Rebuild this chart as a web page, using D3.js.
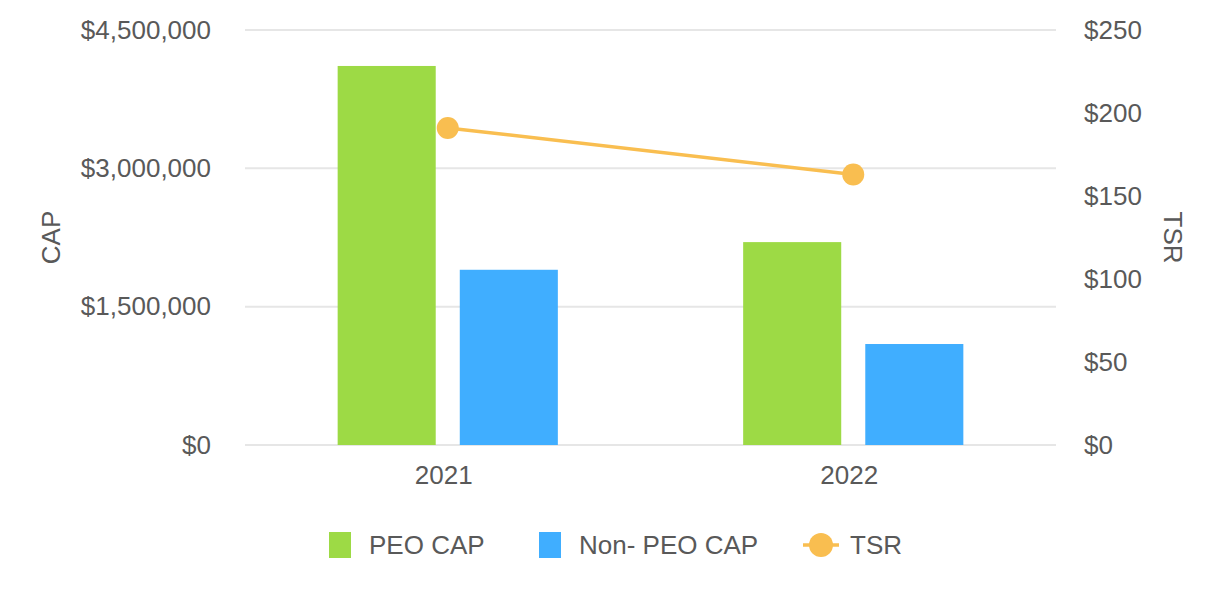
<!DOCTYPE html>
<html>
<head>
<meta charset="utf-8">
<script src="https://cdn.jsdelivr.net/npm/d3@7"></script>
<style>
  body { margin: 0; background: #fff; }
  text { font-family: "Liberation Sans", Arial, sans-serif; fill: #595959; }
</style>
</head>
<body>
<div id="chart"></div>
<script>
// chart data
var years = ["2021", "2022"];
var seriesNames = ["PEO CAP", "Non- PEO CAP"];
var peoCap = [4110000, 2200000];
var nonPeoCap = [1900000, 1095000];
var tsr = [191, 163];
var capTicks = [0, 1500000, 3000000, 4500000];
var tsrTicks = [0, 50, 100, 150, 200, 250];

var colors = {
    "PEO CAP": "#9dda45",
    "Non- PEO CAP": "#40aeff",
    "TSR": "#f9be50"
};

var fontSize = "26px";

var svgWidth = 1226;
var svgHeight = 600;

var margin = { top: 30, right: 170, bottom: 155, left: 245 };
var chartWidth = svgWidth - margin.left - margin.right;
var chartHeight = svgHeight - margin.top - margin.bottom;

var svg = d3.select("#chart")
    .append("svg")
    .attr("width", svgWidth)
    .attr("height", svgHeight);

var chartGroup = svg.append("g")
    .attr("transform", `translate(${margin.left}, ${margin.top})`);

var xBand = d3.scaleBand()
    .domain(years)
    .range([0, chartWidth])
    .padding(0);

var groupWidth = xBand.bandwidth() * 0.543;

var xInner = d3.scaleBand()
    .domain(seriesNames)
    .range([-groupWidth / 2, groupWidth / 2])
    .paddingInner(0.197)
    .paddingOuter(0);

var yLeft = d3.scaleLinear()
    .domain([0, 4500000])
    .range([chartHeight, 0]);

var yRight = d3.scaleLinear()
    .domain([0, 250])
    .range([chartHeight, 0]);

// gridlines
chartGroup.selectAll(".grid")
    .data(capTicks)
    .enter()
    .append("line")
    .attr("x1", 0)
    .attr("x2", chartWidth)
    .attr("y1", d => yLeft(d))
    .attr("y2", d => yLeft(d))
    .attr("stroke", "#e6e6e6")
    .attr("stroke-width", 2);

// axes
var leftAxis = d3.axisLeft(yLeft)
    .tickValues(capTicks)
    .tickSize(0)
    .tickPadding(34)
    .tickFormat(d => "$" + d3.format(",")(d));

var rightAxis = d3.axisRight(yRight)
    .tickValues(tsrTicks)
    .tickSize(0)
    .tickPadding(28)
    .tickFormat(d => "$" + d);

var bottomAxis = d3.axisBottom(xBand)
    .tickSize(0)
    .tickPadding(21);

function styleAxis(g) {
    g.select(".domain").remove();
    g.selectAll("text")
        .attr("font-size", fontSize)
        .attr("fill", "#595959")
        .style("font-family", "'Liberation Sans', Arial, sans-serif");
}

chartGroup.append("g").call(leftAxis).call(styleAxis);
chartGroup.append("g")
    .attr("transform", `translate(${chartWidth}, 0)`)
    .call(rightAxis).call(styleAxis);
chartGroup.append("g")
    .attr("transform", `translate(-4, ${chartHeight})`)
    .call(bottomAxis).call(styleAxis);

// bars
var barData = [];
years.forEach((yr, i) => {
    barData.push({ year: yr, name: "PEO CAP", value: peoCap[i] });
    barData.push({ year: yr, name: "Non- PEO CAP", value: nonPeoCap[i] });
});

chartGroup.selectAll(".bar")
    .data(barData)
    .enter()
    .append("rect")
    .attr("class", "bar")
    .attr("x", d => xBand(d.year) + xBand.bandwidth() / 2 + xInner(d.name))
    .attr("width", xInner.bandwidth())
    .attr("y", d => yLeft(d.value))
    .attr("height", d => chartHeight - yLeft(d.value))
    .attr("fill", d => colors[d.name]);

// TSR line
var line = d3.line()
    .x((d, i) => xBand(years[i]) + xBand.bandwidth() / 2)
    .y(d => yRight(d));

chartGroup.append("path")
    .datum(tsr)
    .attr("d", line)
    .attr("fill", "none")
    .attr("stroke", colors["TSR"])
    .attr("stroke-width", 3.5);

chartGroup.selectAll(".dot")
    .data(tsr)
    .enter()
    .append("circle")
    .attr("cx", (d, i) => xBand(years[i]) + xBand.bandwidth() / 2)
    .attr("cy", d => yRight(d))
    .attr("r", 11)
    .attr("fill", colors["TSR"]);

// axis titles
svg.append("text")
    .attr("transform", `translate(60, ${margin.top + chartHeight / 2}) rotate(-90)`)
    .attr("text-anchor", "middle")
    .attr("font-size", fontSize)
    .text("CAP");

svg.append("text")
    .attr("transform", `translate(1164, ${margin.top + chartHeight / 2}) rotate(90)`)
    .attr("text-anchor", "middle")
    .attr("font-size", fontSize)
    .text("TSR");

// legend
var legend = svg.append("g").attr("transform", "translate(0, 545)");

var legendItems = [
    { name: "PEO CAP", x: 329, type: "rect" },
    { name: "Non- PEO CAP", x: 539, type: "rect" },
    { name: "TSR", x: 803, type: "line" }
];

legendItems.forEach(item => {
    if (item.type == "rect") {
        legend.append("rect")
            .attr("x", item.x)
            .attr("y", -13)
            .attr("width", 22)
            .attr("height", 26)
            .attr("fill", colors[item.name]);
        legend.append("text")
            .attr("x", item.x + 40)
            .attr("y", 0)
            .attr("dy", "0.35em")
            .attr("font-size", fontSize)
            .text(item.name);
    } else {
        legend.append("line")
            .attr("x1", item.x)
            .attr("x2", item.x + 36)
            .attr("y1", 0)
            .attr("y2", 0)
            .attr("stroke", colors["TSR"])
            .attr("stroke-width", 3.5);
        legend.append("circle")
            .attr("cx", item.x + 18)
            .attr("cy", 0)
            .attr("r", 12)
            .attr("fill", colors["TSR"]);
        legend.append("text")
            .attr("x", item.x + 47)
            .attr("y", 0)
            .attr("dy", "0.35em")
            .attr("font-size", fontSize)
            .text(item.name);
    }
});
</script>
</body>
</html>
